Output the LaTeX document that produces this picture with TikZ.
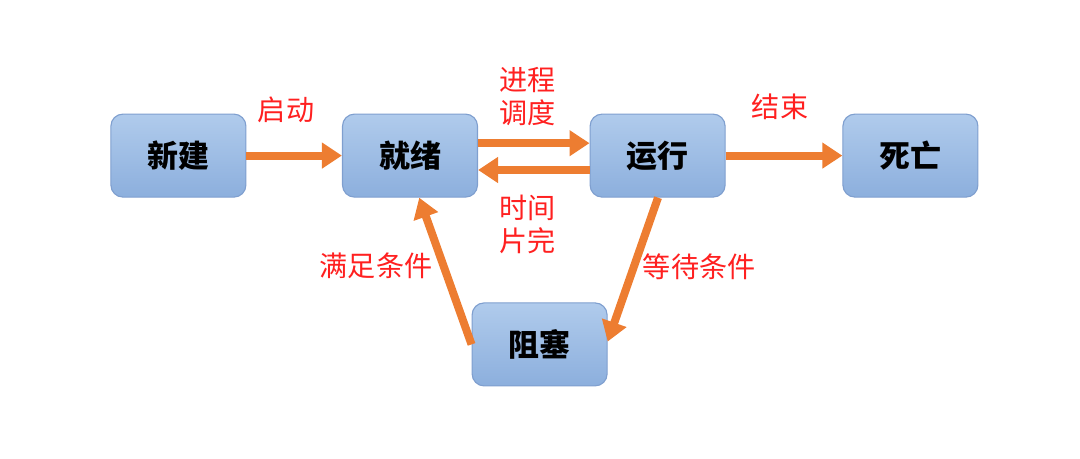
\documentclass[tikz,border=0pt]{standalone}
\usepackage{fontspec}
\usepackage{xcolor}
\usepackage{tikz}
\usetikzlibrary{arrows.meta, positioning}
\newfontfamily\cjk{Noto Sans CJK SC}
\definecolor{boxtop}{HTML}{B0CBEC}
\definecolor{boxbot}{HTML}{8CAFDD}
\definecolor{boxline}{HTML}{7F9FCF}
\definecolor{flow}{HTML}{ED7D31}
\definecolor{lbl}{HTML}{FF2020}

\begin{document}
\begin{tikzpicture}[
    state/.style={rectangle, rounded corners=0.3cm, draw=boxline, thick, top color=boxtop, bottom color=boxbot, minimum width=3.375cm, minimum height=2.075cm, font=\cjk\bfseries\fontsize{22}{26}\selectfont},
    flowarrow/.style={draw=flow, line width=0.2cm, -{Triangle[length=0.5cm, width=0.62cm]}},
    tag/.style={text=lbl, font=\cjk\fontsize{20}{23.5}\selectfont, align=center, inner sep=0pt}
]
\useasboundingbox (0,0) rectangle (27,11.45);

% States in a row, blocked state below
\node[state] (xinjian) at (4.46, 7.56) {新建};
\node[state] (jiuxu) at (10.25, 7.56) {就绪};
\node[state] (yunxing) at (16.44, 7.56) {运行};
\node[state] (siwang) at (22.76, 7.56) {死亡};
\node[state] (zusai) at (13.49, 2.84) {阻塞};

% Transitions
\draw[flowarrow] (xinjian.east) -- (jiuxu.west);
\draw[flowarrow] ([yshift=0.31cm]jiuxu.east) -- ([yshift=0.31cm]yunxing.west);
\draw[flowarrow] ([yshift=-0.36cm]yunxing.west) -- ([yshift=-0.36cm]jiuxu.east);
\draw[flowarrow] (yunxing.east) -- (siwang.west);
\draw[flowarrow] ([xshift=0.01cm]yunxing.south) -- ([yshift=0.07cm]zusai.east);
\draw[flowarrow] (zusai.west) -- ([xshift=0.23cm]jiuxu.south);

% Labels
\node[tag] (lqidong) at (7.15, 8.7) {启动};
\node[tag] (ldiaodu) at (13.18, 9.04) {进程\\调度};
\node[tag] (lshijian) at (13.18, 5.84) {时间\\片完};
\node[tag] (ljieshu) at (19.5, 8.78) {结束};
\node[tag] (lmanzu) at (9.4, 4.8) {满足条件};
\node[tag] (ldengdai) at (17.48, 4.77) {等待条件};
\end{tikzpicture}
\end{document}
